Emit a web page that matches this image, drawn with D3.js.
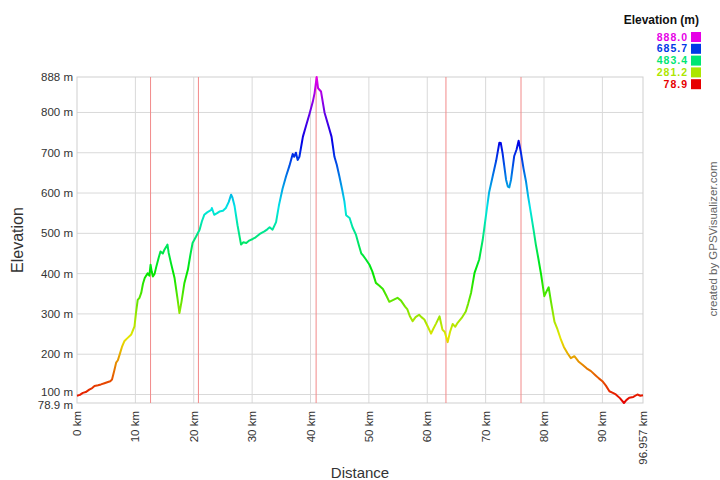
<!DOCTYPE html>
<html>
<head>
<meta charset="utf-8">
<script src="https://cdn.jsdelivr.net/npm/d3@7"></script>
<style>
  html, body { margin: 0; padding: 0; background: #fff; }
  svg { display: block; font-family: "Liberation Sans", Arial, sans-serif; }
</style>
</head>
<body>
<svg id="chart" width="720" height="480"></svg>
<script>
// ---- data ----
const distanceKm = [0,0.5,1.0,1.5,2.1,2.6,3.0,3.6,4.1,4.7,5.3,5.7,6.0,6.4,6.7,7.0,7.3,7.7,8.1,8.5,9.3,9.85,10.1,10.4,10.7,11.0,11.3,11.6,12.1,12.4,12.6,12.8,13.0,13.3,13.6,14.0,14.3,14.7,15.0,15.3,15.5,15.7,16.1,16.7,17.2,17.55,17.9,18.4,19.0,19.4,19.8,20.4,21.0,21.4,21.8,22.3,23.0,23.1,23.5,24.0,24.4,25.0,25.5,26.0,26.4,26.6,27.0,27.5,28.1,28.5,29.0,29.5,30.1,30.6,31.25,31.7,32.1,32.6,33.0,33.5,34.1,34.6,35.2,35.8,36.4,36.95,37.2,37.5,37.8,38.1,38.7,39.2,39.8,40.4,40.7,41.06,41.3,41.8,42.4,43.2,43.6,44.1,44.5,44.95,45.4,45.8,46.1,46.7,47.2,47.8,48.3,48.7,48.9,49.5,50.1,50.6,51.2,51.8,52.4,53.0,53.5,54.2,54.9,55.5,56.2,56.6,57.0,57.5,58.0,58.6,59.0,59.5,60.1,60.65,61.0,61.5,62.1,62.6,63.0,63.5,63.9,64.35,64.8,65.2,65.9,66.6,67.0,67.5,68.1,68.9,69.5,70.07,70.6,71.2,71.8,72.35,72.6,72.9,73.2,73.5,73.8,74.06,74.35,74.9,75.3,75.65,76.06,76.5,76.9,77.3,77.8,78.2,78.6,79.0,79.5,80.05,80.4,80.8,81.2,81.8,82.3,82.9,83.4,84.0,84.6,85.2,85.9,86.6,87.3,88.05,88.8,89.4,90.0,90.6,91.2,91.8,92.3,93.0,93.7,94.1,94.6,95.3,96.0,96.5,96.957];
const elevationM = [97,99,104,106,112,116,121,123,125,128,131,133,137,160,179,185,199,218,232,238,249,269,302,335,340,352,375,389,401,395,422,405,393,400,418,440,455,450,460,467,472,452,426,390,340,302,330,377,410,445,476,492,509,530,546,552,558,563,546,550,554,556,563,578,596,590,567,520,472,478,476,482,486,490,498,502,505,510,515,509,528,570,610,641,668,697,690,700,682,690,740,765,795,827,848,888,860,852,800,760,740,690,670,641,610,580,545,538,515,496,470,450,447,435,422,405,377,370,362,345,330,335,340,333,318,311,295,282,292,298,292,286,268,251,262,276,294,261,255,230,255,275,268,278,290,306,325,352,402,435,484,546,602,641,680,725,724,699,666,633,616,614,633,692,708,730,699,660,630,590,546,510,472,440,398,344,355,366,330,280,262,236,218,203,190,195,182,174,165,158,148,140,133,122,108,104,100,91,78.9,86,92,94,100,97,98];

const yTickValues = [78.9,100,200,300,400,500,600,700,800,888];
const yTickLabels = ["78.9 m","100 m","200 m","300 m","400 m","500 m","600 m","700 m","800 m","888 m"];
const xTickValues = [0,10,20,30,40,50,60,70,80,90,96.957];
const xTickLabels = ["0 km","10 km","20 km","30 km","40 km","50 km","60 km","70 km","80 km","90 km","96.957 km"];
const markerKm = [12.6,20.8,40.96,63.2,76.06];
const legendValues = [888.0,685.7,483.4,281.2,78.9];
const legendLabels = ["888.0","685.7","483.4","281.2","78.9"];

// ---- layout ----
const svg = d3.select("#chart");
const L = 77, R = 643, T = 77, B = 403;
const minE = 78.9, maxE = 888;
const x = d3.scaleLinear().domain([0, 96.957]).range([L, R]);
const y = d3.scaleLinear().domain([minE, maxE]).range([B, T]);
const hueScale = d3.scaleLinear().domain([minE, maxE]).range([0, 300]);
const colorOf = e => d3.hsl(hueScale(e), 1, 0.45).formatHex();

// grid
const grid = svg.append("g");
grid.selectAll("line.h").data(yTickValues.slice(1, -1)).join("line")
  .attr("x1", L).attr("x2", R).attr("y1", d => y(d)).attr("y2", d => y(d))
  .attr("stroke", "#d9d9d9").attr("stroke-width", 1);
grid.selectAll("line.v").data(xTickValues.slice(1, -1)).join("line")
  .attr("y1", T).attr("y2", B).attr("x1", d => x(d)).attr("x2", d => x(d))
  .attr("stroke", "#d9d9d9").attr("stroke-width", 1);
svg.append("rect").attr("x", L).attr("y", T).attr("width", R - L).attr("height", B - T)
  .attr("fill", "none").attr("stroke", "#cfcfcf").attr("stroke-width", 1);

// marker lines
svg.append("g").selectAll("line").data(markerKm).join("line")
  .attr("x1", d => x(d)).attr("x2", d => x(d)).attr("y1", T).attr("y2", B)
  .attr("stroke", "#f28a8a").attr("stroke-width", 1);

// gradient by elevation
const defs = svg.append("defs");
const grad = defs.append("linearGradient").attr("id", "elevGrad")
  .attr("gradientUnits", "userSpaceOnUse")
  .attr("x1", 0).attr("x2", 0).attr("y1", y(minE)).attr("y2", y(maxE));
d3.range(0, 1.0001, 0.05).forEach(t => {
  const e = minE + t * (maxE - minE);
  grad.append("stop").attr("offset", t).attr("stop-color", colorOf(e));
});

const pts = distanceKm.map((d, i) => [d, elevationM[i]]);
const line = d3.line().x(d => x(d[0])).y(d => y(d[1]));
svg.append("path").datum(pts).attr("d", line)
  .attr("fill", "none").attr("stroke", "url(#elevGrad)").attr("stroke-width", 2)
  .attr("stroke-linejoin", "round");

// y tick labels
const yNudge = {78.9: 1.5, 100: -2.5};
svg.append("g").selectAll("text").data(yTickValues).join("text")
  .attr("x", L - 4).attr("y", d => y(d) + (yNudge[d] || 0)).attr("dy", "0.35em")
  .attr("text-anchor", "end").attr("font-size", 11.5).attr("fill", "#333")
  .text((d, i) => yTickLabels[i]);

// x tick labels
svg.append("g").selectAll("text").data(xTickValues).join("text")
  .attr("transform", d => `translate(${x(d)},${B + 8}) rotate(-90)`)
  .attr("dy", "0.35em").attr("text-anchor", "end").attr("font-size", 11.5).attr("fill", "#333")
  .text((d, i) => xTickLabels[i]);

// axis titles
svg.append("text").attr("transform", `translate(23,${(T + B) / 2}) rotate(-90)`)
  .attr("text-anchor", "middle").attr("font-size", 16).attr("fill", "#333").text("Elevation");
svg.append("text").attr("x", 360).attr("y", 478)
  .attr("text-anchor", "middle").attr("font-size", 15).attr("fill", "#333").text("Distance");

// legend
svg.append("text").attr("x", 699).attr("y", 24).attr("text-anchor", "end")
  .attr("font-size", 12).attr("font-weight", "bold").attr("fill", "#111").text("Elevation (m)");
const leg = svg.append("g").selectAll("g").data(legendValues).join("g")
  .attr("transform", (d, i) => `translate(0,${37 + i * 11.8})`);
leg.append("text").attr("x", 688).attr("y", 0).attr("dy", "0.35em").attr("text-anchor", "end")
  .attr("font-size", 10.5).attr("letter-spacing", 1).attr("font-weight", "bold")
  .attr("fill", d => colorOf(d)).text((d, i) => legendLabels[i]);
leg.append("rect").attr("x", 691).attr("y", -5).attr("width", 10).attr("height", 10)
  .attr("fill", d => colorOf(d));

// watermark
svg.append("text").attr("transform", "translate(717,239) rotate(-90)")
  .attr("text-anchor", "middle").attr("font-size", 11.5).attr("fill", "#666")
  .text("created by GPSVisualizer.com");
</script>
</body>
</html>
